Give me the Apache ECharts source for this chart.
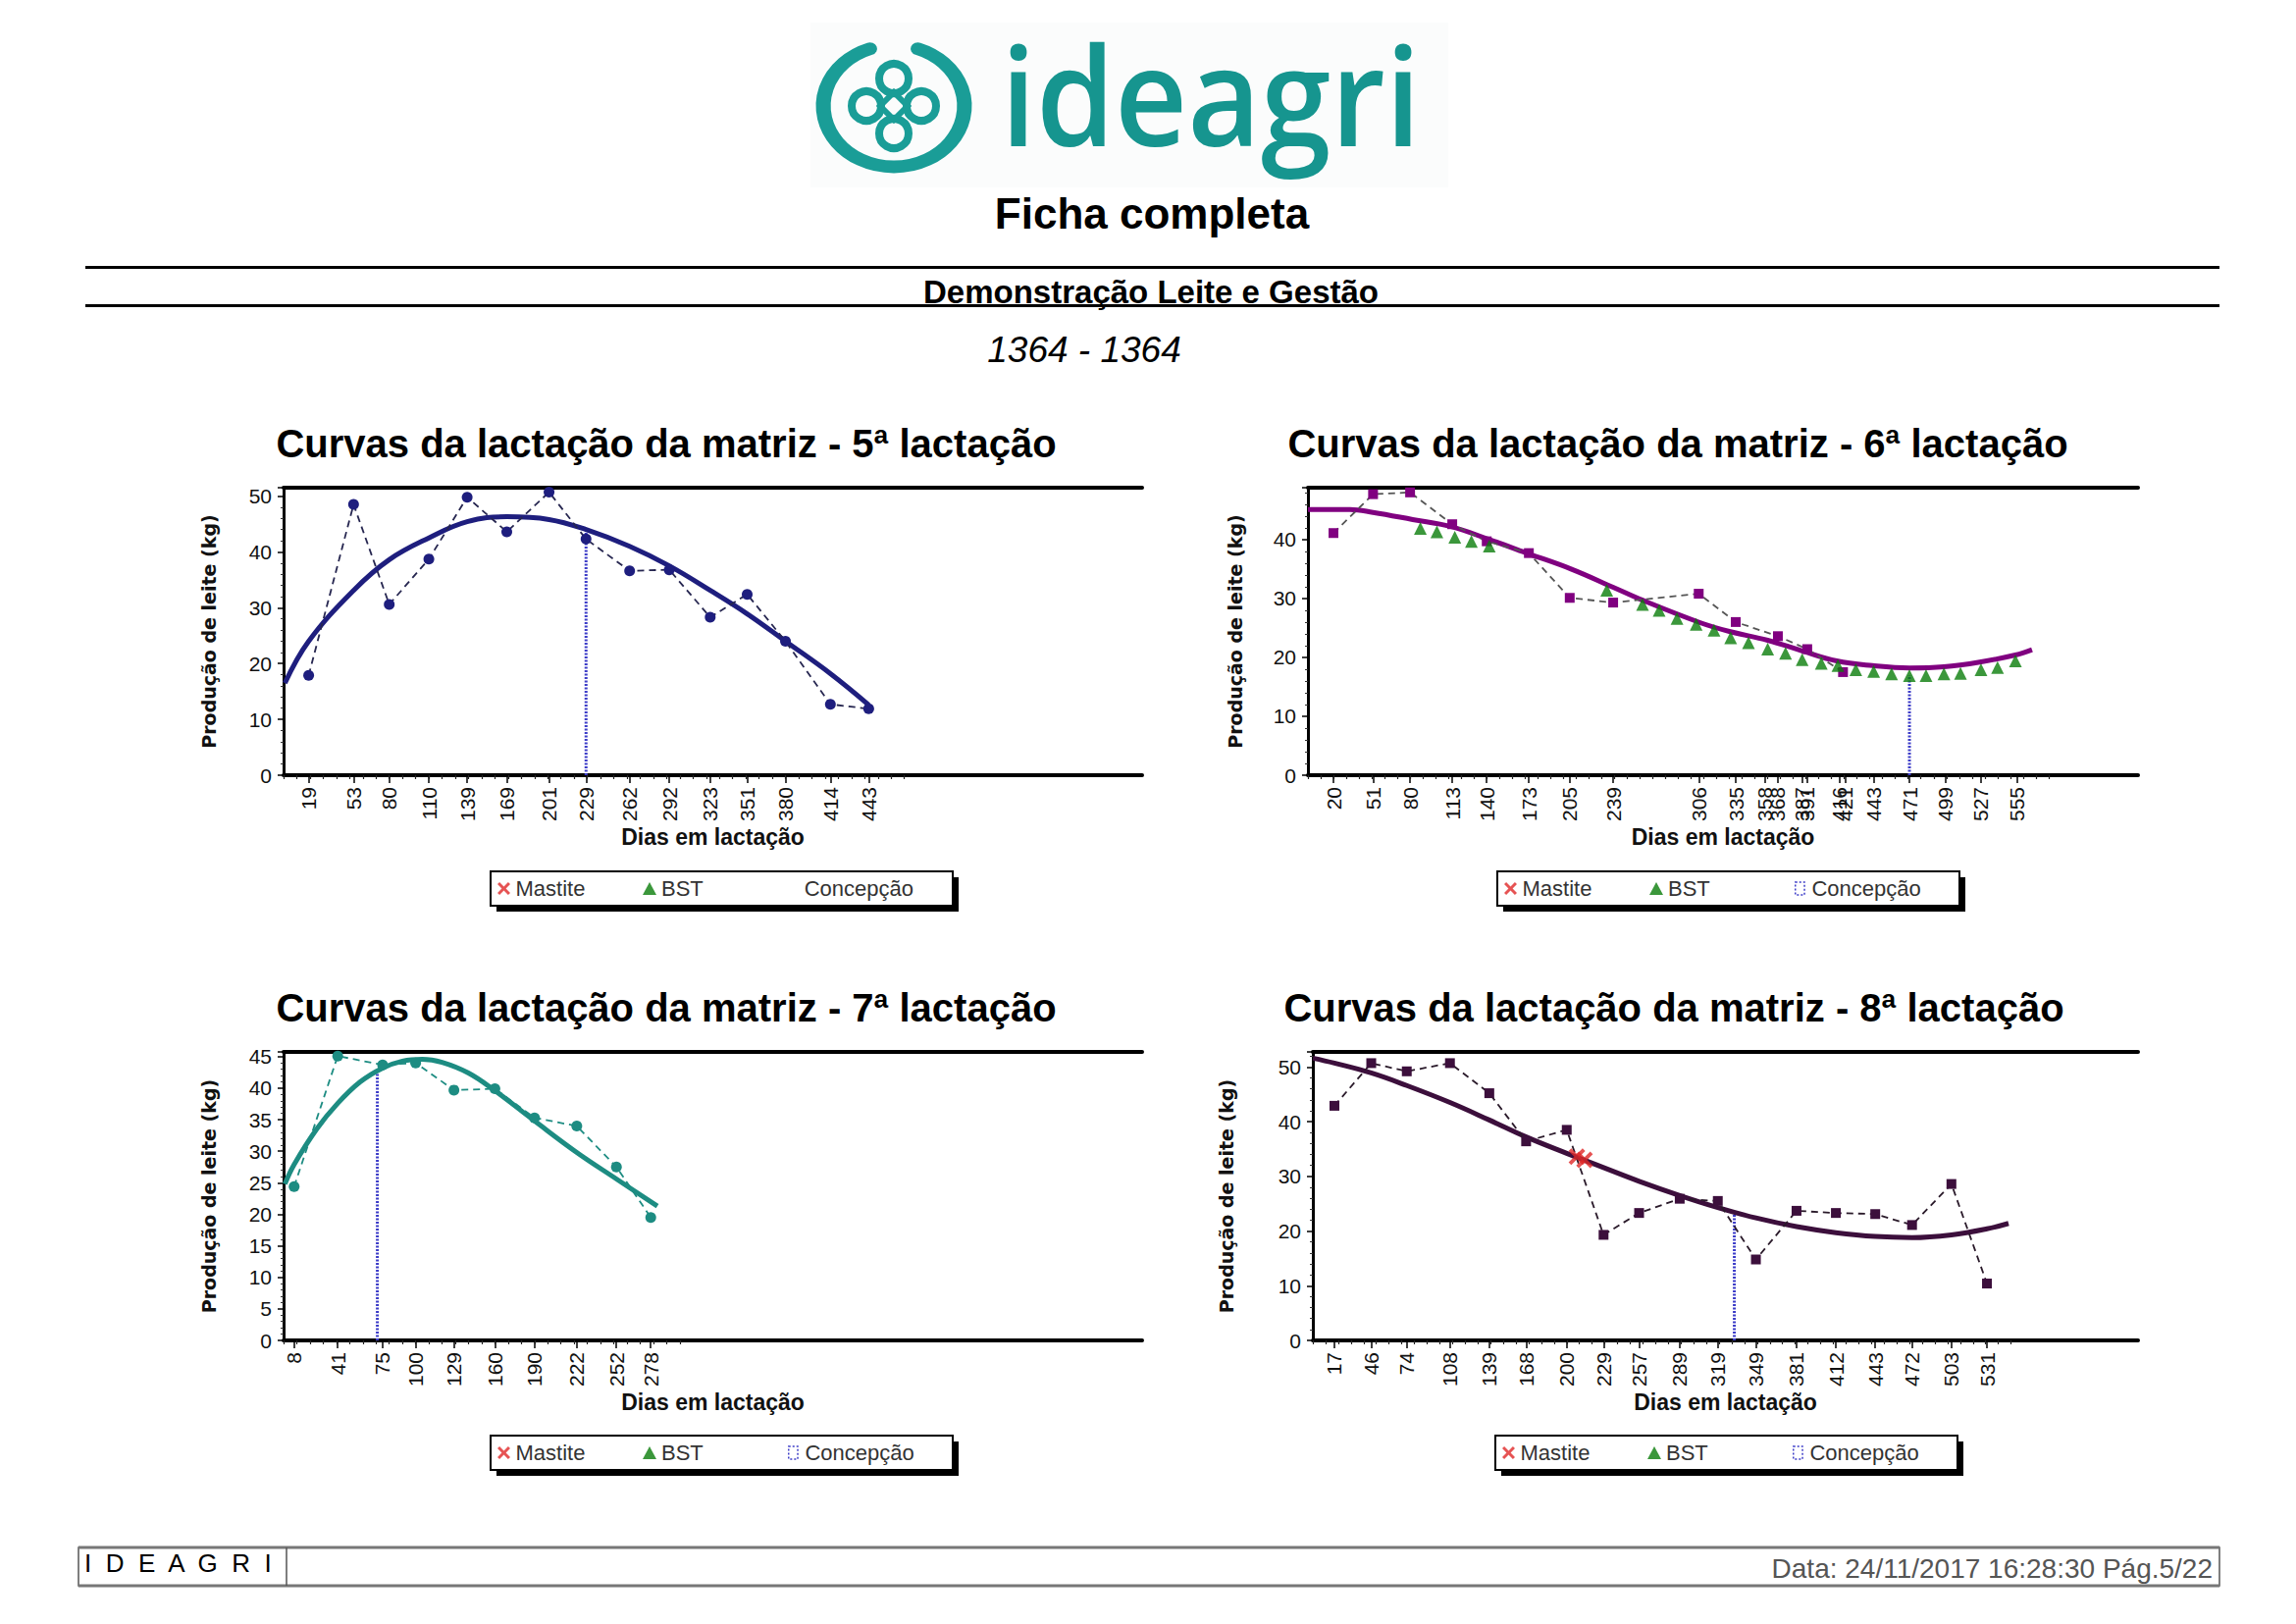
<!DOCTYPE html>
<html>
<head>
<meta charset="utf-8">
<script src="https://cdn.jsdelivr.net/npm/echarts@6/dist/echarts.min.js"></script>
<style>
html,body{margin:0;padding:0;background:#ffffff;}
#c{width:2340px;height:1655px;}
</style>
</head>
<body>
<div id="c"></div>
<script>
// ---------------- DATA ----------------
const titles = [
  'Curvas da lactação da matriz - 5ª lactação',
  'Curvas da lactação da matriz - 6ª lactação',
  'Curvas da lactação da matriz - 7ª lactação',
  'Curvas da lactação da matriz - 8ª lactação'
];
const xName = 'Dias em lactação';
const yName = 'Produção de leite (kg)';
const legendNames = ['Mastite', 'BST', 'Concepção'];

// 5ª lactação
const labels5 = [19, 53, 80, 110, 139, 169, 201, 229, 262, 292, 323, 351, 380, 414, 443];
const milkDays5 = [19, 53, 80, 110, 139, 169, 201, 229, 262, 292, 323, 351, 380, 414, 443];
const milk5 = [17.9, 48.5, 30.6, 38.7, 49.8, 43.6, 50.7, 42.3, 36.6, 36.8, 28.3, 32.4, 24.0, 12.7, 11.9];
const curveDays5 = [1, 19, 53, 80, 110, 139, 169, 201, 229, 262, 292, 323, 351, 380, 414, 443];
const curve5 = [16.5, 24.0, 33.1, 38.6, 42.5, 45.4, 46.3, 45.8, 44.0, 41.0, 37.5, 33.1, 28.9, 24.0, 18.2, 12.6];
const bstDays5 = [];
const bst5 = [];
const mastDays5 = [];
const mast5 = [];
const concDay5 = 229;
const concTop5 = 43.8;

// 6ª lactação
const labels6 = [20, 51, 80, 113, 140, 173, 205, 239, 306, 335, 358, 368, 387, 391, 416, 421, 443, 471, 499, 527, 555];
const milkDays6 = [20, 51, 80, 113, 140, 173, 205, 239, 306, 335, 368, 391, 419];
const milk6 = [41.1, 47.7, 48.0, 42.6, 39.7, 37.7, 30.1, 29.3, 30.8, 26.0, 23.6, 21.4, 17.5];
const curveDays6 = [0, 33, 51, 82, 112, 142, 174, 206, 239, 262, 307, 330, 360, 387, 414, 442, 471, 498, 526, 554, 567];
const curve6 = [45.1, 45.1, 44.6, 43.4, 42.2, 40.0, 37.5, 35.0, 31.9, 29.7, 25.9, 24.4, 22.9, 21.1, 19.4, 18.6, 18.2, 18.4, 19.2, 20.4, 21.3];
const bstDays6 = [88, 101, 115, 128, 142, 234, 262, 275, 289, 304, 318, 331, 345, 360, 374, 387, 402, 415, 429, 443, 457, 471, 484, 498, 511, 527, 540, 554];
const bst6 = [41.9, 41.3, 40.4, 39.7, 38.9, 31.4, 29.0, 28.0, 26.6, 25.6, 24.6, 23.3, 22.5, 21.4, 20.7, 19.6, 19.0, 18.6, 17.9, 17.6, 17.2, 16.9, 16.9, 17.2, 17.3, 17.9, 18.3, 19.4];
const mastDays6 = [];
const mast6 = [];
const concDay6 = 471;
const concTop6 = 17.0;

// 7ª lactação
const labels7 = [8, 41, 75, 100, 129, 160, 190, 222, 252, 278];
const milkDays7 = [8, 41, 75, 100, 129, 160, 190, 222, 252, 278];
const milk7 = [24.4, 45.1, 43.7, 44.0, 39.7, 39.9, 35.3, 34.0, 27.5, 19.5];
const curveDays7 = [1, 8, 25, 41, 58, 75, 90, 105, 120, 140, 160, 190, 222, 252, 283];
const curve7 = [24.8, 27.9, 33.5, 37.6, 41.0, 43.2, 44.3, 44.6, 44.1, 42.4, 39.6, 34.8, 29.8, 25.6, 21.3];
const bstDays7 = [];
const bst7 = [];
const mastDays7 = [];
const mast7 = [];
const concDay7 = 71;
const concTop7 = 42.8;

// 8ª lactação
const labels8 = [17, 46, 74, 108, 139, 168, 200, 229, 257, 289, 319, 349, 381, 412, 443, 472, 503, 531];
const milkDays8 = [17, 46, 74, 108, 139, 168, 200, 229, 257, 289, 319, 349, 381, 412, 443, 472, 503, 531];
const milk8 = [42.9, 50.7, 49.2, 50.7, 45.2, 36.4, 38.5, 19.3, 23.3, 25.9, 25.5, 14.8, 23.7, 23.3, 23.1, 21.1, 28.6, 10.4];
const curveDays8 = [0, 17, 46, 74, 108, 139, 168, 200, 229, 257, 289, 319, 349, 381, 412, 443, 472, 503, 531, 548];
const curve8 = [51.6, 50.7, 48.9, 46.6, 43.5, 40.3, 37.2, 34.2, 31.6, 29.1, 26.5, 24.3, 22.4, 20.8, 19.7, 19.0, 18.8, 19.3, 20.4, 21.4];
const bstDays8 = [];
const bst8 = [];
const mastDays8 = [208, 214];
const mast8 = [33.6, 33.0];
const concDay8 = 332;
const concTop8 = 23.4;

// ---------------- LAYOUT / STYLE ----------------
const FONT = '"Liberation Sans", Arial, Helvetica, sans-serif';
const X_PATH = 'path://M0,1.6L1.6,0L5,3.4L8.4,0L10,1.6L6.6,5L10,8.4L8.4,10L5,6.6L1.6,10L0,8.4L3.4,5Z';
const CONC_PATH = 'path://M0,0L10,0L10,14L0,14Z';
const RED = '#e02828';
const GREEN = '#0a7d0a';
const CONC = '#3c3cc8';

const sets = [
  {labels: labels5, milkDays: milkDays5, milk: milk5, curveDays: curveDays5, curve: curve5, bstDays: bstDays5, bst: bst5, mastDays: mastDays5, mast: mast5, concDay: concDay5, concTop: concTop5},
  {labels: labels6, milkDays: milkDays6, milk: milk6, curveDays: curveDays6, curve: curve6, bstDays: bstDays6, bst: bst6, mastDays: mastDays6, mast: mast6, concDay: concDay6, concTop: concTop6},
  {labels: labels7, milkDays: milkDays7, milk: milk7, curveDays: curveDays7, curve: curve7, bstDays: bstDays7, bst: bst7, mastDays: mastDays7, mast: mast7, concDay: concDay7, concTop: concTop7},
  {labels: labels8, milkDays: milkDays8, milk: milk8, curveDays: curveDays8, curve: curve8, bstDays: bstDays8, bst: bst8, mastDays: mastDays8, mast: mast8, concDay: concDay8, concTop: concTop8}
];
const layout = [
  {grid: {left: 289, top: 497, width: 875, height: 293}, ymax: 51.5, yint: 10, yGap: 67, title: [679, 452], legend: [500, 888], tickEnd: 470, color: '#1e1e7e', dash: '#262650', symbol: 'circle', symSize: 11, concIcon: false},
  {grid: {left: 1333, top: 497, width: 846, height: 293}, ymax: 48.8, yint: 10, yGap: 65, title: [1710, 452], legend: [1526, 888], tickEnd: 580, color: '#800080', dash: '#555555', symbol: 'rect', symSize: 10, concIcon: true},
  {grid: {left: 289, top: 1072, width: 875, height: 294}, ymax: 45.75, yint: 5, yGap: 67, title: [679, 1027], legend: [500, 1463], tickEnd: 300, color: '#1d8c82', dash: '#1d8c82', symbol: 'circle', symSize: 11, concIcon: true},
  {grid: {left: 1338, top: 1072, width: 841, height: 294}, ymax: 52.75, yint: 10, yGap: 79, title: [1706, 1027], legend: [1524, 1463], tickEnd: 555, color: '#3c0f3c', dash: '#2a1a2a', symbol: 'rect', symSize: 10, concIcon: true}
];
const legendOffsets = [7, 155, 303];

const pairs = (xs, ys) => xs.map((x, i) => [x, ys[i]]);

const grids = [], xAxes = [], yAxes = [], series = [], legends = [], graphics = [];

sets.forEach((s, i) => {
  const L = layout[i];
  grids.push(Object.assign({containLabel: false}, L.grid));
  const minorTicks = [];
  for (let d = 0; d <= L.tickEnd; d += 10) minorTicks.push(d);
  xAxes.push({
    type: 'value', gridIndex: i, min: 0, max: 650, position: 'bottom',
    name: xName, nameLocation: 'middle', nameGap: 51,
    nameTextStyle: {fontFamily: FONT, fontSize: 23, fontWeight: 'bold', color: '#111', verticalAlign: 'top'},
    axisLine: {show: true, onZero: false, lineStyle: {color: '#000', width: 4}},
    axisTick: {show: true, customValues: s.labels, length: 8, lineStyle: {color: '#000', width: 1.5}},
    axisLabel: {show: true, customValues: s.labels, rotate: 90, margin: 12, fontFamily: FONT, fontSize: 21, color: '#111'},
    splitLine: {show: false}
  });
  xAxes.push({
    type: 'value', gridIndex: i, min: 0, max: 650, position: 'top',
    axisLine: {show: true, onZero: false, lineStyle: {color: '#000', width: 4}},
    axisTick: {show: false}, axisLabel: {show: false}, splitLine: {show: false}
  });
  xAxes.push({
    type: 'value', gridIndex: i, min: 0, max: 650, position: 'bottom',
    axisLine: {show: false, onZero: false},
    axisTick: {show: true, customValues: minorTicks, length: 4, lineStyle: {color: '#222', width: 1.2}},
    axisLabel: {show: false}, splitLine: {show: false}
  });
  yAxes.push({
    type: 'value', gridIndex: i, min: 0, max: L.ymax, interval: L.yint, position: 'left',
    name: yName, nameLocation: 'middle', nameGap: L.yGap, nameRotate: 90,
    nameTextStyle: {fontFamily: '"DejaVu Sans", Verdana, sans-serif', fontSize: 19, fontWeight: 'bold', color: '#111'},
    axisLine: {show: true, onZero: false, lineStyle: {color: '#000', width: 3}},
    axisTick: {show: true, length: 6, lineStyle: {color: '#000', width: 1.5}},
    minorTick: {show: true, splitNumber: 5, length: 3, lineStyle: {color: '#333', width: 1}},
    axisLabel: {show: true, showMaxLabel: false, margin: 12, fontFamily: FONT, fontSize: 21, color: '#111'},
    splitLine: {show: false}, minorSplitLine: {show: false}
  });
  const xi = i * 3;
  series.push({
    type: 'line', name: 'Concepção', xAxisIndex: xi, yAxisIndex: i, z: 1,
    data: [[s.concDay, 0], [s.concDay, s.concTop]], symbol: 'none', silent: true,
    lineStyle: {color: CONC, width: 3, type: [2, 1.5]}, itemStyle: {color: CONC}
  });
  series.push({
    type: 'line', name: 'Curva ' + (i + 5), xAxisIndex: xi, yAxisIndex: i, z: 3,
    data: pairs(s.curveDays, s.curve), smooth: 0.4, showSymbol: false, symbol: 'none',
    lineStyle: {color: L.color, width: 5}, itemStyle: {color: L.color}
  });
  series.push({
    type: 'line', name: 'Produção ' + (i + 5), xAxisIndex: xi, yAxisIndex: i, z: 4,
    data: pairs(s.milkDays, s.milk), symbol: L.symbol, symbolSize: L.symSize, showSymbol: true,
    lineStyle: {color: L.dash, width: 1.8, type: [7, 5]}, itemStyle: {color: L.color}
  });
  series.push({
    type: 'scatter', name: 'BST', xAxisIndex: xi, yAxisIndex: i, z: 5,
    data: pairs(s.bstDays, s.bst), symbol: 'triangle', symbolSize: [13, 13],
    itemStyle: {color: GREEN}
  });
  series.push({
    type: 'scatter', name: 'Mastite', xAxisIndex: xi, yAxisIndex: i, z: 6,
    data: pairs(s.mastDays, s.mast), symbol: X_PATH, symbolSize: 17,
    itemStyle: {color: RED}
  });
  const legendItems = [
    {name: legendNames[0], icon: X_PATH, itemStyle: {color: RED, borderWidth: 0}},
    {name: legendNames[1], icon: 'triangle', itemStyle: {color: GREEN, borderWidth: 0}},
    {name: legendNames[2], icon: CONC_PATH, itemStyle: L.concIcon
      ? {color: 'rgba(0,0,0,0)', borderColor: CONC, borderWidth: 1.5, borderType: [2, 2]}
      : {color: 'rgba(0,0,0,0)', borderWidth: 0}}
  ];
  legendItems.forEach((it, k) => {
    legends.push({
      left: L.legend[0] + legendOffsets[k], top: L.legend[1] + 6.5, orient: 'horizontal', z: 10,
      itemWidth: 14, itemHeight: 13, itemGap: 0, padding: 0,
      selectedMode: false,
      textStyle: {fontFamily: FONT, fontSize: 22, color: '#333'},
      data: [it]
    });
  });
  graphics.push({type: 'rect', z: 1, shape: {x: L.legend[0] + 6, y: L.legend[1] + 6, width: 471, height: 35}, style: {fill: '#000'}});
  graphics.push({type: 'rect', z: 2, shape: {x: L.legend[0], y: L.legend[1], width: 471, height: 35}, style: {fill: '#fff', stroke: '#000', lineWidth: 2}});
  graphics.push({type: 'text', x: L.title[0], y: L.title[1], style: {text: titles[i], font: 'bold 40px ' + FONT, fill: '#000', align: 'center', verticalAlign: 'middle'}});
});

// ---------------- HEADER / FOOTER ----------------
const mctx = document.createElement('canvas').getContext('2d');
const LOGO_FONT = '600 140px "Open Sans", "DejaVu Sans", sans-serif';
mctx.font = LOGO_FONT;
const logoW = mctx.measureText('ideagri').width || 430;
const logoSX = 428 / logoW;
const TEAL = '#16958f';
const TEAL2 = '#1a9d97';

graphics.push(
  {type: 'rect', z: 0, shape: {x: 826, y: 23, width: 650, height: 168}, style: {fill: '#fbfcfc'}},
  {type: 'arc', x: 911, y: 108, scaleX: 1.16, shape: {cx: 0, cy: 0, r: 62, startAngle: -70 * Math.PI / 180, endAngle: 250 * Math.PI / 180, clockwise: true},
    style: {stroke: TEAL2, lineWidth: 13, fill: null, lineCap: 'round'}},
  {type: 'circle', shape: {cx: 911, cy: 80, r: 15}, style: {stroke: TEAL2, lineWidth: 8, fill: null}},
  {type: 'circle', shape: {cx: 911, cy: 136, r: 15}, style: {stroke: TEAL2, lineWidth: 8, fill: null}},
  {type: 'circle', shape: {cx: 883, cy: 108, r: 15}, style: {stroke: TEAL2, lineWidth: 8, fill: null}},
  {type: 'circle', shape: {cx: 939, cy: 108, r: 15}, style: {stroke: TEAL2, lineWidth: 8, fill: null}},
  {type: 'polygon', shape: {points: [[911, 94], [925, 108], [911, 122], [897, 108]]}, style: {stroke: TEAL2, lineWidth: 6, fill: null}},
  {type: 'text', x: 1020, y: 94, scaleX: logoSX, style: {text: 'ideagri', font: LOGO_FONT, fill: TEAL, align: 'left', verticalAlign: 'middle'}},
  {type: 'text', x: 1174, y: 217, style: {text: 'Ficha completa', font: 'bold 44px ' + FONT, fill: '#000', align: 'center', verticalAlign: 'middle'}},
  {type: 'line', shape: {x1: 87, y1: 272.5, x2: 2262, y2: 272.5}, style: {stroke: '#000', lineWidth: 3}},
  {type: 'line', shape: {x1: 87, y1: 311.5, x2: 2262, y2: 311.5}, style: {stroke: '#000', lineWidth: 3}},
  {type: 'text', x: 1173, y: 297, style: {text: 'Demonstração Leite e Gestão', font: 'bold 33px ' + FONT, fill: '#000', align: 'center', verticalAlign: 'middle'}},
  {type: 'text', x: 1105, y: 356, style: {text: '1364 - 1364', font: 'italic 37px ' + FONT, fill: '#000', align: 'center', verticalAlign: 'middle'}},
  {type: 'rect', shape: {x: 80, y: 1577, width: 2182, height: 39}, style: {fill: null, stroke: '#555', lineWidth: 1.5}},
  {type: 'line', shape: {x1: 80, y1: 1577, x2: 2262, y2: 1577}, style: {stroke: '#777', lineWidth: 3}},
  {type: 'line', shape: {x1: 80, y1: 1616, x2: 2262, y2: 1616}, style: {stroke: '#777', lineWidth: 3}},
  {type: 'line', shape: {x1: 292, y1: 1577, x2: 292, y2: 1616}, style: {stroke: '#555', lineWidth: 1.5}},
  {type: 'text', x: 86, y: 1593, style: {text: 'I  D  E  A  G  R  I', font: '26px ' + FONT, fill: '#000', align: 'left', verticalAlign: 'middle'}},
  {type: 'text', x: 2255, y: 1598, style: {text: 'Data: 24/11/2017 16:28:30 Pág.5/22', font: '28px ' + FONT, fill: '#555', align: 'right', verticalAlign: 'middle'}}
);

const option = {
  backgroundColor: '#ffffff',
  animation: false,
  grid: grids,
  xAxis: xAxes,
  yAxis: yAxes,
  legend: legends,
  series: series,
  graphic: graphics
};

const chart = echarts.init(document.getElementById('c'), null, {renderer: 'svg', width: 2340, height: 1655});
chart.setOption(option);
</script>
</body>
</html>
